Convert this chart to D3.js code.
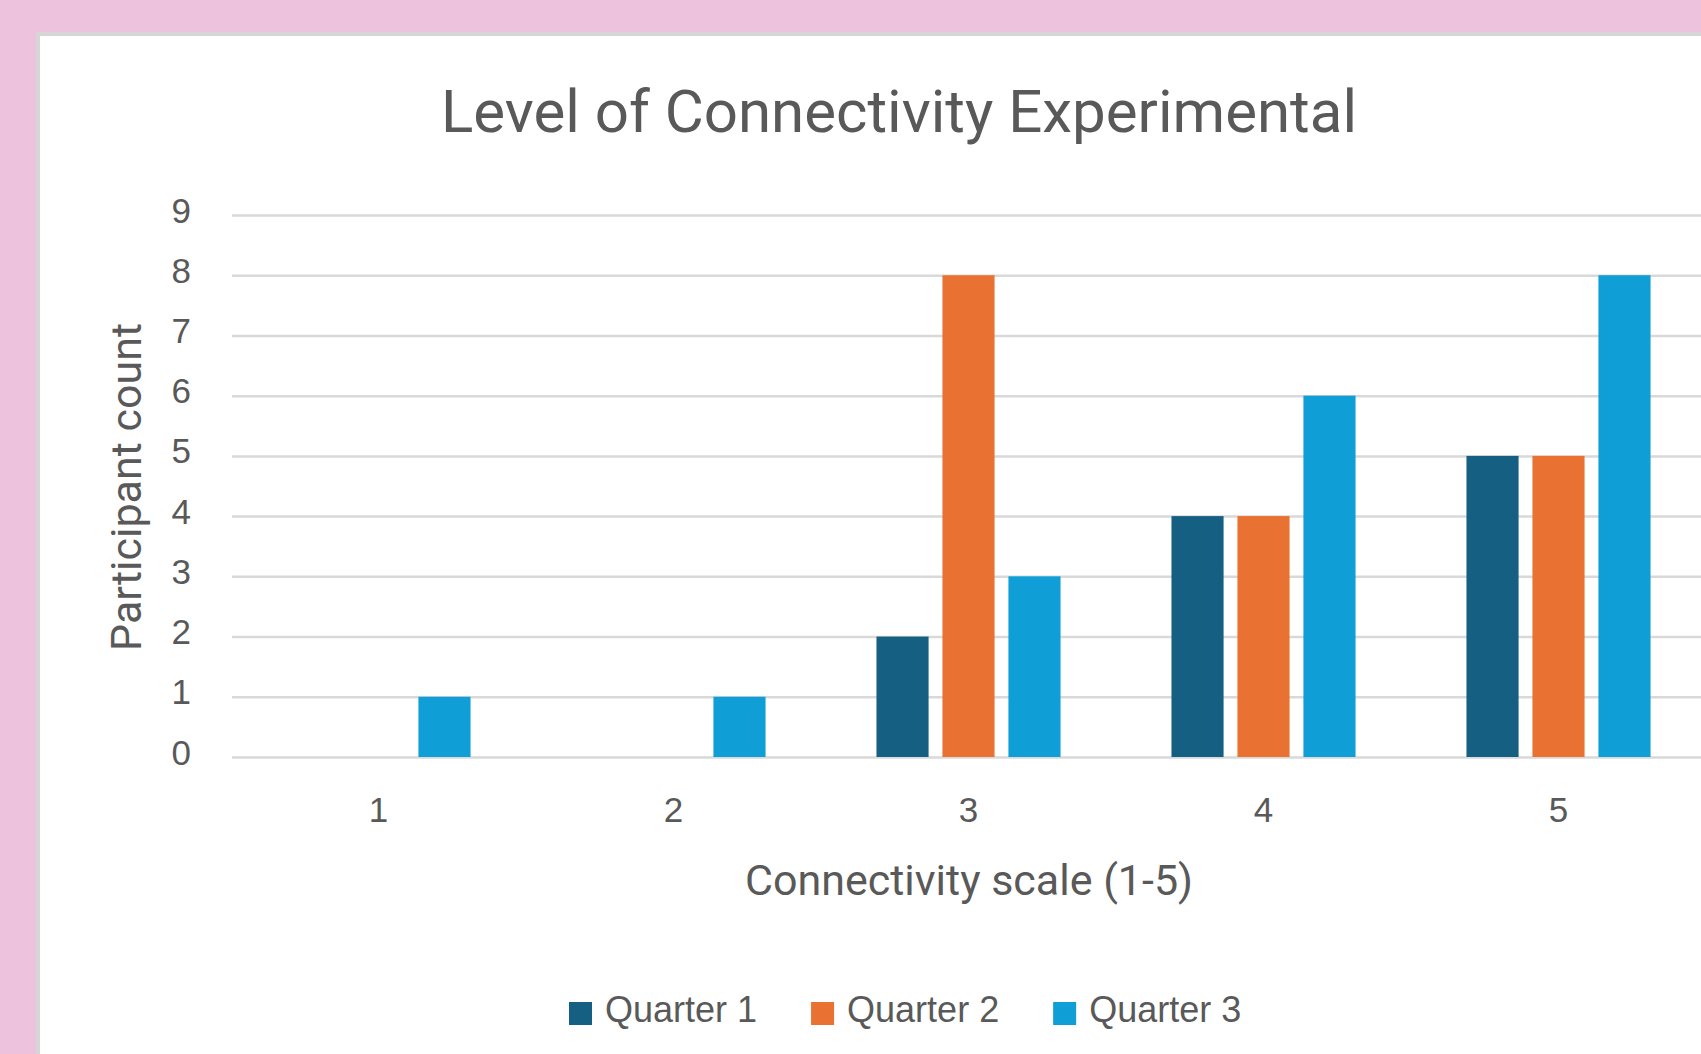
<!DOCTYPE html>
<html>
<head>
<meta charset="utf-8">
<script src="https://cdn.jsdelivr.net/npm/d3@7"></script>
<style>
  body { margin: 0; background: #ecc2dc; overflow: hidden; }
  .tick text { fill: #595959; font-family: 'Liberation Sans', Arial, sans-serif; font-size: 35px; }
  .grid line { stroke: #d9d9d9; stroke-width: 2.5px; }
  .title, .axis-title { fill: #595959; font-family: Roboto, sans-serif; }
  .legend text { fill: #595959; font-family: 'Liberation Sans', Arial, sans-serif; font-size: 36px; }
</style>
</head>
<body>
<svg id="chart"></svg>
<script>
// data
const categories = ['1', '2', '3', '4', '5']
const seriesNames = ['Quarter 1', 'Quarter 2', 'Quarter 3']
const quarter1 = [0, 0, 2, 4, 5]
const quarter2 = [0, 0, 8, 4, 5]
const quarter3 = [1, 1, 3, 6, 8]
const yTicks = [0, 1, 2, 3, 4, 5, 6, 7, 8, 9]
const colors = ['#156082', '#e97132', '#0f9ed5']

//consts
const
  width = 1701,
  height = 1054,
  plotLeft = 232,
  plotTop = 215,
  plotBottom = 757,
  step = 295

const seriesValues = [quarter1, quarter2, quarter3]
const rows = categories.map((c, i) => ({
  cat: c,
  values: seriesNames.map((s, j) => ({ key: s, value: seriesValues[j][i], color: colors[j] }))
}))

const svg = d3.select('#chart')
  .attr('width', width)
  .attr('height', height)

// white chart panel
svg.append('rect')
  .attr('x', 38).attr('y', 34)
  .attr('width', width).attr('height', height)
  .attr('fill', '#fff')
  .attr('stroke', '#d6d6d6')
  .attr('stroke-width', 4)

//scales
const x0 = d3.scaleBand()
  .domain(categories)
  .range([231, 231 + step * categories.length])
  .paddingInner(0.376)
  .paddingOuter(0.188)
const x1 = d3.scaleBand()
  .domain(seriesNames)
  .range([0, x0.bandwidth()])
  .paddingInner(0.21)
const y = d3.scaleLinear()
  .domain([0, 9])
  .range([plotBottom, plotTop])

// gridlines + y labels
const yAxis = svg.append('g')
  .attr('class', 'grid')
  .attr('transform', 'translate(' + plotLeft + ',0)')
  .call(d3.axisLeft(y).tickValues(yTicks).tickSize(-(width - plotLeft)).tickPadding(41))
yAxis.select('.domain').remove()
yAxis.selectAll('text').attr('dy', '0.2em')

// x labels
const xAxis = svg.append('g')
  .attr('transform', 'translate(0,' + plotBottom + ')')
  .call(d3.axisBottom(x0).tickSize(0).tickPadding(40))
xAxis.select('.domain').remove()

// bars
svg.append('g')
  .selectAll('g')
  .data(rows)
  .join('g')
  .attr('transform', d => 'translate(' + x0(d.cat) + ',0)')
  .selectAll('rect')
  .data(d => d.values.filter(v => v.value > 0))
  .join('rect')
  .attr('x', d => x1(d.key))
  .attr('y', d => y(d.value))
  .attr('width', x1.bandwidth())
  .attr('height', d => y(0) - y(d.value))
  .attr('fill', d => d.color)

// title
svg.append('text')
  .attr('class', 'title')
  .attr('x', 899).attr('y', 132)
  .attr('text-anchor', 'middle')
  .style('font-size', '60px')
  .text('Level of Connectivity Experimental')

// axis titles
svg.append('text')
  .attr('class', 'axis-title')
  .attr('x', 969).attr('y', 895)
  .attr('text-anchor', 'middle')
  .style('font-size', '43px')
  .text('Connectivity scale (1-5)')

svg.append('text')
  .attr('class', 'axis-title')
  .attr('transform', 'translate(141,487) rotate(-90)')
  .attr('text-anchor', 'middle')
  .style('font-size', '43px')
  .text('Participant count')

// legend
const legend = svg.append('g').attr('class', 'legend')
let lx = 569
seriesNames.forEach((name, i) => {
  legend.append('rect')
    .attr('x', lx).attr('y', 1002)
    .attr('width', 23).attr('height', 23)
    .attr('fill', colors[i])
  let t = legend.append('text')
    .attr('x', lx + 36).attr('y', 1022)
    .text(name)
  lx += 36 + t.node().getComputedTextLength() + 54
})
</script>
</body>
</html>
